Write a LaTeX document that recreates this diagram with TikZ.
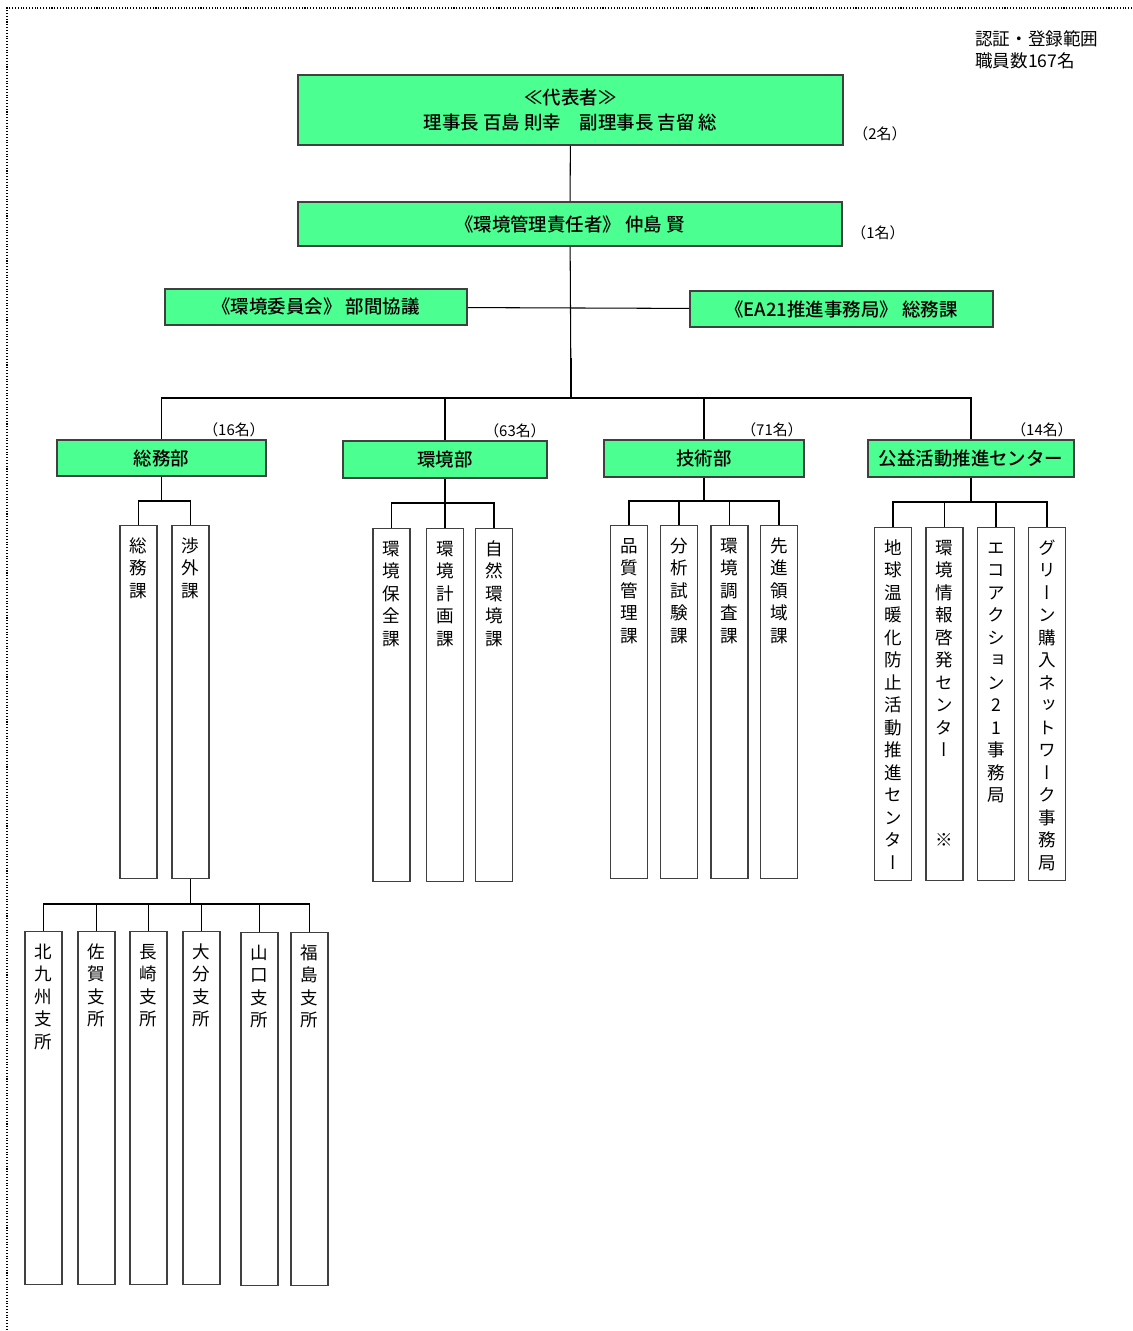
\documentclass[tikz,border=0pt]{standalone}
\usepackage{fontspec}
\setmainfont{Noto Sans CJK JP}[BoldFont={Noto Sans CJK JP Medium}]
\newfontfamily\tatefont{Noto Sans CJK JP}[RawFeature=+vert]
\usepackage{tikz}
\usetikzlibrary{calc}

\definecolor{boxgreen}{RGB}{76,255,145}
\definecolor{boxline}{RGB}{64,64,64}

% characters stacked one under another
\newcommand\tsp{}
\def\tateloop#1{\ifx\relax#1\else\hbox to 1em{\hss#1\hss}\expandafter\tateloop\fi}
\newcommand\tate[1]{\vtop{\baselineskip=12.8pt\lineskiplimit=-50pt\tateloop#1\relax}}

\begin{document}
\begin{tikzpicture}[x=0.02cm,y=-0.02cm,
    green/.style={draw=boxline,fill=boxgreen,line width=0.9pt,font=\bfseries\fontsize{10.5pt}{12pt}\selectfont},
    dept/.style={green,minimum height=0.73cm},
    sect/.style={draw=boxline,line width=0.8pt,anchor=north,minimum width=0.74cm,
      inner xsep=0pt,inner ysep=0.22cm,text height=0.31cm,text depth=6.31cm,font=\tatefont},
    count/.style={inner sep=1pt,font=\fontsize{8.5pt}{10pt}\selectfont},
    link/.style={line width=0.6pt},
    stem/.style={line width=1.1pt},
    frame/.style={densely dotted,line width=0.6pt}]

  \useasboundingbox (0,0) rectangle (1132,1331);

  % Frame
  \draw[frame] (1132,8) -- (7,8) -- (7,1331);

  % Scope
  \node[anchor=north west,align=left,inner sep=0pt,font=\fontsize{10pt}{12.5pt}\selectfont]
    (scope) at (975,30) {認証・登録範囲\\職員数167名};

  % Top
  \node[green,minimum width=10.9cm,minimum height=1.4cm,align=center,
    font=\bfseries\fontsize{10.5pt}{14.2pt}\selectfont] (rep) at (570.5,110)
    {≪代表者≫\\理事長 百島 則幸　副理事長 吉留 総};
  \node[count] (nrep) at (880,134) {（2名）};
  \node[green,minimum width=10.88cm,minimum height=0.88cm] (emr) at (570,224)
    {《環境管理責任者》 仲島 賢};
  \node[count] (nemr) at (878,233) {（1名）};
  \node[green,minimum width=6.04cm,minimum height=0.72cm] (cmt) at (316,307)
    {《環境委員会》 部間協議};
  \node[green,minimum width=6.06cm,minimum height=0.72cm] (ea) at (841.5,309)
    {《EA21推進事務局》 総務課};

  \coordinate (hubtop) at (571,358);
  \coordinate (hub) at (571,398);
  \draw[link] (rep) -- (emr);
  \draw[link] (emr) -- (hub);
  \draw[stem] (hubtop) -- (hub);
  \draw[link] (cmt) -- (ea);

  % Departments
  \node[dept,minimum width=4.18cm] (d1) at (161.5,458) {総務部};
  \node[dept,minimum width=4.08cm] (d2) at (445,459.5) {環境部};
  \node[dept,minimum width=4.0cm]  (d3) at (704,458.5) {技術部};
  \node[dept,minimum width=4.12cm] (d4) at (971,458.5) {公益活動推進センター};
  \node[count,anchor=south east] (n1) at (d1.north east) {（16名）};
  \node[count,anchor=south east] (n2) at (d2.north east) {（63名）};
  \node[count,anchor=south east] (n3) at (d3.north east) {（71名）};
  \node[count,anchor=south east] (n4) at (d4.north east) {（14名）};

  \draw[link] (d1.north) |- (hub) -| (d4.north);
  \foreach \d in {d2,d3}
    \draw[link] (\d.north) -- (\d.north |- hub);

  % Sections
  \node[sect] (s11) at (138.5,525) {\tate{総務課}};
  \node[sect] (s12) at (190.5,525) {\tate{渉外課}};

  \node[sect] (s21) at (391.5,528) {\tate{環境保全課}};
  \node[sect] (s22) at (445,528)   {\tate{環境計画課}};
  \node[sect] (s23) at (494,528)   {\tate{自然環境課}};

  \node[sect] (s31) at (629,525)   {\tate{品質管理課}};
  \node[sect] (s32) at (679,525)   {\tate{分析試験課}};
  \node[sect] (s33) at (729.5,525) {\tate{環境調査課}};
  \node[sect] (s34) at (779,525)   {\tate{先進領域課}};

  \node[sect] (s41) at (893,527)   {\tate{地球温暖化防止活動推進センター}};
  \node[sect] (s42) at (944.5,527) {\tate{環境情報啓発センター\tsp\tsp\tsp※}};
  \node[sect] (s43) at (996,527)   {\tate{エコアクション21事務局}};
  \node[sect] (s44) at (1047,527)  {\tate{グリーン購入ネットワーク事務局}};

  \coordinate (j1) at (161,501);
  \coordinate (j2) at (445,503);
  \coordinate (j3) at (704,501);
  \coordinate (j4) at (971,502);
  \foreach \d/\j in {d1/j1,d2/j2,d3/j3,d4/j4}
    \draw[stem] (\d.south) -- (\d.south |- \j);
  \draw[link] (s11.north) |- (j1) -| (s12.north);
  \draw[link] (s21.north) |- (j2) -| (s23.north);
  \draw[link] (s31.north) |- (j3) -| (s34.north);
  \draw[link] (s41.north) |- (j4) -| (s44.north);
  \foreach \s/\j in {s22/j2,s32/j3,s33/j3,s42/j4,s43/j4}
    \draw[link] (\s.north) -- (\s.north |- \j);

  % Branch offices
  \node[sect] (b1) at (43.5,931)  {\tate{北九州支所}};
  \node[sect] (b2) at (96.5,931)  {\tate{佐賀支所}};
  \node[sect] (b3) at (148.5,931) {\tate{長崎支所}};
  \node[sect] (b4) at (201.5,931) {\tate{大分支所}};
  \node[sect] (b5) at (259.5,932) {\tate{山口支所}};
  \node[sect] (b6) at (309.5,932) {\tate{福島支所}};

  \coordinate (jb) at (190.5,904);
  \draw[stem] (s12.south) -- (jb);
  \draw[link] (b1.north) |- (jb) -| (b6.north);
  \foreach \b in {b2,b3,b4,b5}
    \draw[link] (\b.north) -- (\b.north |- jb);

\end{tikzpicture}
\end{document}
